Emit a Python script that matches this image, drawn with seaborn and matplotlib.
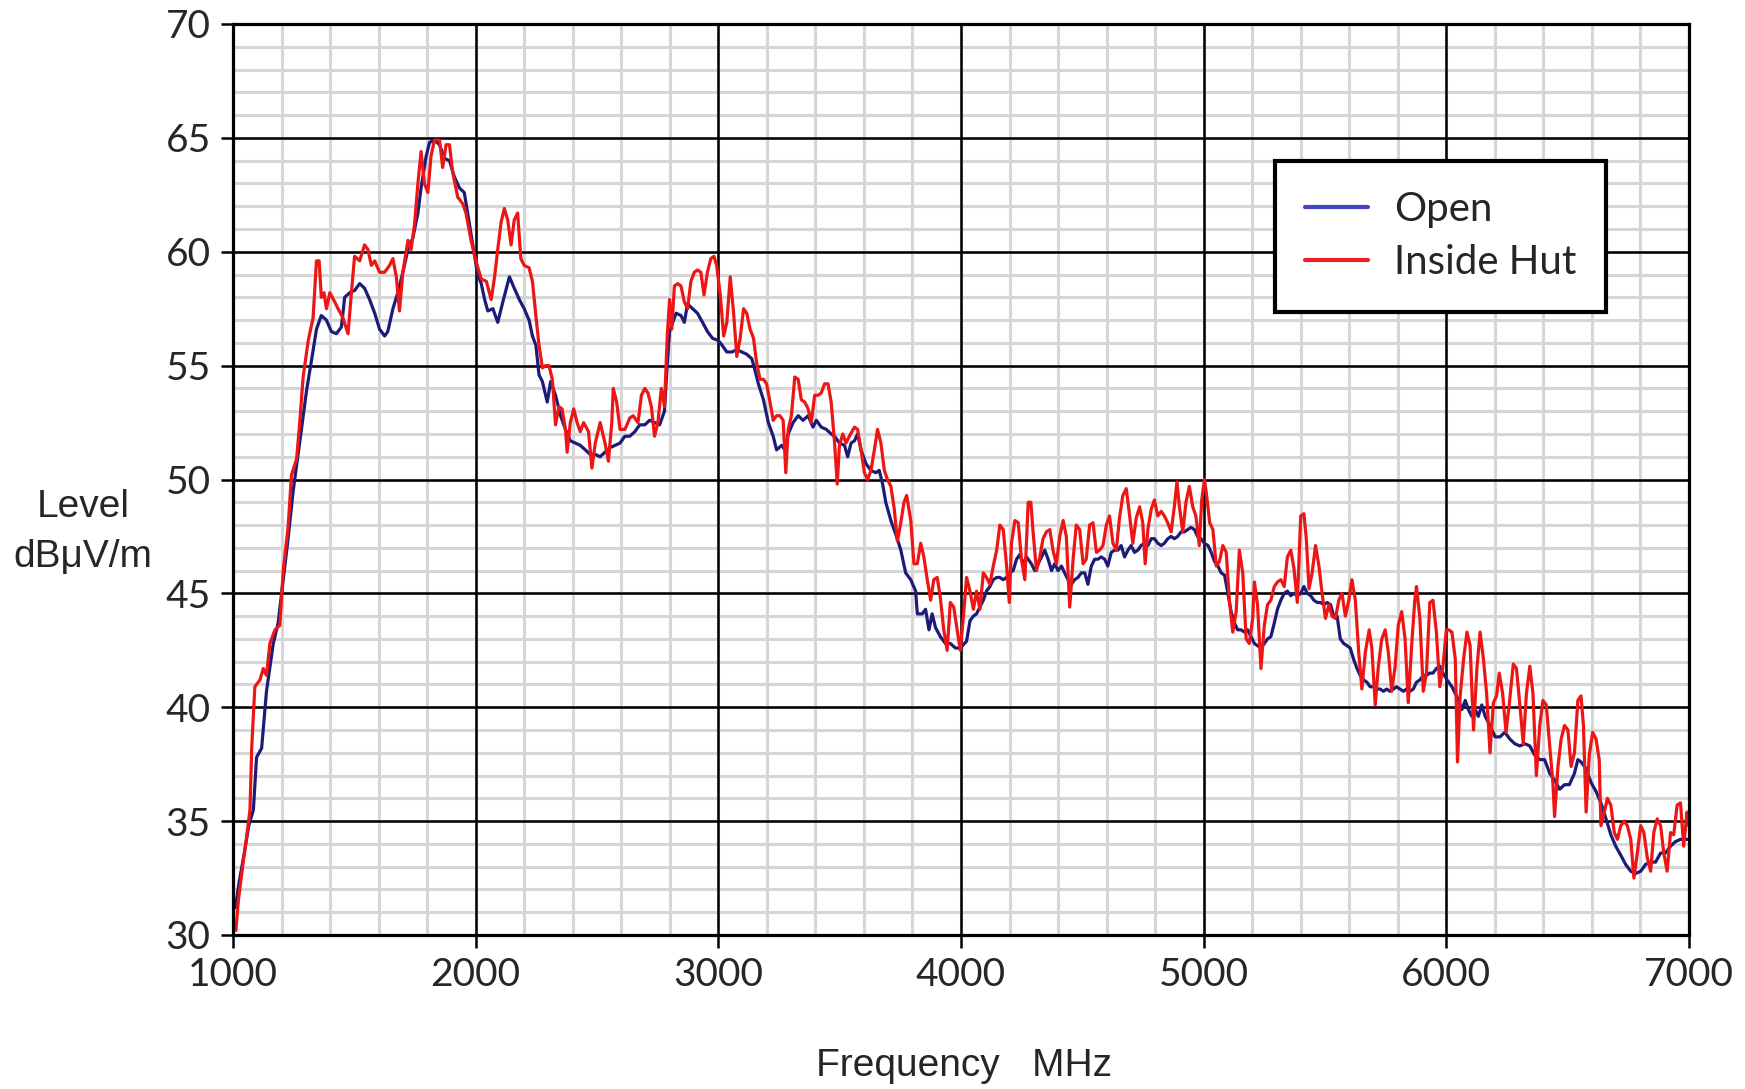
import numpy as np
import pandas as pd
import matplotlib
matplotlib.use("Agg")
import matplotlib.pyplot as plt
from matplotlib.ticker import MultipleLocator
from matplotlib.lines import Line2D
import seaborn as sns

# Open-field measurement (blue trace)
open_freq = [1010, 1025, 1045, 1065, 1084, 1097, 1118, 1138, 1166, 1186, 1207, 1227, 1248, 1262,
             1282, 1303, 1323, 1344, 1364, 1385, 1405, 1426, 1447, 1460, 1481, 1501, 1522, 1542,
             1563, 1584, 1604, 1625, 1638, 1659, 1679, 1700, 1721, 1741, 1762, 1775, 1796, 1810,
             1830, 1851, 1871, 1892, 1912, 1933, 1953, 1967, 1988, 2008, 2023, 2037, 2050, 2071,
             2091, 2112, 2139, 2159, 2180, 2200, 2220, 2234, 2248, 2261, 2275, 2295, 2309, 2329,
             2350, 2370, 2390, 2411, 2431, 2452, 2472, 2493, 2513, 2533, 2554, 2574, 2595, 2615,
             2635, 2656, 2676, 2697, 2717, 2737, 2758, 2778, 2789, 2799, 2812, 2826, 2846, 2860,
             2873, 2894, 2914, 2935, 2955, 2976, 3000, 3015, 3035, 3056, 3076, 3097, 3117, 3138,
             3151, 3165, 3186, 3206, 3226, 3240, 3261, 3274, 3288, 3308, 3329, 3349, 3370, 3390,
             3404, 3424, 3445, 3465, 3479, 3499, 3520, 3533, 3547, 3561, 3574, 3588, 3608, 3629,
             3649, 3663, 3677, 3690, 3711, 3731, 3752, 3772, 3793, 3813, 3820, 3840, 3854, 3868,
             3881, 3895, 3915, 3936, 3956, 3977, 3997, 4023, 4037, 4051, 4064, 4078, 4092, 4105,
             4119, 4133, 4147, 4160, 4174, 4188, 4201, 4215, 4229, 4242, 4256, 4270, 4290, 4304,
             4318, 4332, 4345, 4359, 4373, 4386, 4400, 4414, 4427, 4441, 4455, 4468, 4482, 4496,
             4510, 4523, 4537, 4551, 4564, 4578, 4592, 4605, 4619, 4633, 4647, 4660, 4674, 4688,
             4701, 4715, 4729, 4742, 4756, 4770, 4784, 4797, 4811, 4825, 4838, 4852, 4866, 4879,
             4893, 4907, 4921, 4934, 4948, 4962, 4975, 4989, 5003, 5018, 5031, 5045, 5059, 5072,
             5086, 5100, 5113, 5127, 5140, 5154, 5168, 5181, 5195, 5209, 5222, 5236, 5250, 5263,
             5277, 5291, 5304, 5318, 5332, 5345, 5359, 5372, 5386, 5400, 5413, 5427, 5441, 5454,
             5468, 5482, 5495, 5509, 5523, 5536, 5550, 5563, 5577, 5591, 5604, 5618, 5632, 5645,
             5659, 5673, 5686, 5700, 5714, 5727, 5741, 5754, 5768, 5782, 5795, 5809, 5823, 5836,
             5850, 5864, 5877, 5891, 5905, 5918, 5932, 5945, 5959, 5973, 5986, 6003, 6023, 6037,
             6050, 6064, 6078, 6091, 6105, 6119, 6132, 6146, 6160, 6180, 6201, 6221, 6241, 6262,
             6282, 6303, 6323, 6344, 6364, 6385, 6405, 6426, 6446, 6467, 6487, 6507, 6528, 6542,
             6555, 6576, 6596, 6617, 6637, 6658, 6678, 6698, 6719, 6739, 6760, 6780, 6801, 6821,
             6842, 6862, 6883, 6903, 6924, 6944, 6965, 6985, 6999]
open_level = [31.2, 32.3, 33.5, 34.8, 35.5, 37.8, 38.2, 40.7, 42.8, 43.7, 45.6, 47.4, 49.5, 50.6,
              52.2, 53.9, 55.2, 56.6, 57.2, 57.0, 56.5, 56.4, 56.7, 58.0, 58.2, 58.3, 58.6, 58.4,
              57.9, 57.3, 56.6, 56.3, 56.5, 57.5, 58.2, 59.1, 60.1, 60.6, 61.7, 62.8, 64.2, 64.8,
              64.9, 64.7, 64.1, 64.0, 63.3, 62.8, 62.6, 61.7, 60.3, 59.0, 58.6, 57.9, 57.4, 57.5,
              56.9, 57.8, 58.9, 58.4, 57.9, 57.5, 57.0, 56.3, 55.9, 54.6, 54.3, 53.4, 54.3, 53.7,
              52.8, 52.2, 51.7, 51.6, 51.5, 51.3, 51.1, 51.1, 51.0, 51.2, 51.4, 51.5, 51.6, 51.9,
              51.9, 52.1, 52.4, 52.4, 52.6, 52.5, 52.4, 53.0, 55.0, 56.5, 56.9, 57.3, 57.2, 56.9,
              57.7, 57.5, 57.3, 56.9, 56.5, 56.2, 56.1, 55.9, 55.6, 55.6, 55.7, 55.6, 55.5, 55.3,
              54.8, 54.2, 53.5, 52.5, 51.9, 51.3, 51.5, 51.3, 52.0, 52.5, 52.8, 52.6, 52.8, 52.3,
              52.6, 52.3, 52.2, 52.0, 51.9, 51.6, 51.5, 51.0, 51.6, 51.7, 52.0, 51.3, 50.7, 50.4,
              50.3, 50.4, 49.8, 49.0, 48.2, 47.6, 46.9, 45.9, 45.6, 45.1, 44.1, 44.1, 44.3, 43.4,
              44.1, 43.5, 43.1, 42.8, 42.8, 42.6, 42.6, 42.9, 43.8, 44.0, 44.1, 44.4, 44.7, 45.1,
              45.3, 45.6, 45.7, 45.7, 45.6, 45.7, 45.9, 46.0, 46.5, 46.7, 46.3, 46.6, 46.3, 46.0,
              46.3, 46.6, 46.9, 46.5, 46.0, 46.3, 46.0, 46.2, 45.9, 45.6, 45.4, 45.6, 45.7, 45.9,
              45.9, 45.4, 46.2, 46.5, 46.5, 46.6, 46.5, 46.2, 46.8, 46.9, 46.9, 47.1, 46.6, 46.9,
              47.1, 46.8, 46.9, 47.1, 47.2, 47.1, 47.4, 47.4, 47.2, 47.1, 47.2, 47.4, 47.5, 47.4,
              47.5, 47.7, 47.7, 47.8, 47.9, 47.8, 47.5, 47.4, 47.2, 47.1, 46.8, 46.4, 46.2, 45.9,
              45.8, 45.0, 44.2, 43.7, 43.4, 43.4, 43.3, 43.4, 43.1, 42.8, 42.7, 42.6, 42.8, 43.0,
              43.1, 43.7, 44.3, 44.7, 45.0, 45.1, 44.9, 45.0, 44.9, 45.0, 45.3, 45.0, 44.9, 44.7,
              44.6, 44.6, 44.5, 44.6, 44.5, 44.0, 44.0, 43.0, 42.8, 42.7, 42.6, 42.1, 41.7, 41.4,
              41.2, 41.1, 40.9, 40.9, 40.8, 40.8, 40.7, 40.8, 40.7, 40.8, 40.9, 40.8, 40.7, 40.8,
              40.7, 40.8, 41.1, 41.2, 41.4, 41.4, 41.5, 41.5, 41.7, 41.8, 41.5, 41.2, 40.9, 40.6,
              40.3, 39.9, 40.3, 39.9, 39.6, 39.9, 39.6, 40.1, 39.6, 39.2, 38.7, 38.7, 38.9, 38.6,
              38.4, 38.3, 38.4, 38.3, 37.9, 37.7, 37.7, 37.1, 36.8, 36.4, 36.6, 36.6, 37.1, 37.7,
              37.6, 37.3, 36.7, 36.3, 35.8, 35.1, 34.4, 33.9, 33.5, 33.1, 32.8, 32.7, 32.8, 33.1,
              33.2, 33.2, 33.6, 33.6, 33.9, 34.1, 34.2, 34.2, 34.2]

# Inside hut measurement (red trace)
hut_freq = [1012, 1022, 1042, 1056, 1070, 1077, 1090, 1111, 1125, 1138, 1152, 1173, 1193, 1207,
            1227, 1241, 1262, 1275, 1289, 1310, 1330, 1344, 1355, 1364, 1375, 1385, 1399, 1419,
            1433, 1453, 1474, 1488, 1501, 1522, 1542, 1556, 1570, 1584, 1604, 1625, 1645, 1659,
            1673, 1686, 1700, 1721, 1734, 1748, 1762, 1775, 1789, 1803, 1816, 1830, 1851, 1864,
            1878, 1892, 1905, 1926, 1947, 1960, 1981, 2001, 2023, 2044, 2064, 2078, 2091, 2105,
            2118, 2132, 2146, 2159, 2173, 2186, 2200, 2220, 2234, 2248, 2261, 2275, 2288, 2302,
            2316, 2329, 2343, 2356, 2370, 2377, 2390, 2404, 2418, 2431, 2445, 2465, 2479, 2493,
            2513, 2533, 2547, 2561, 2567, 2581, 2595, 2615, 2635, 2649, 2669, 2683, 2697, 2710,
            2724, 2737, 2751, 2765, 2778, 2789, 2799, 2808, 2819, 2833, 2846, 2860, 2873, 2887,
            2901, 2914, 2928, 2941, 2955, 2969, 2982, 2993, 3008, 3022, 3035, 3049, 3063, 3076,
            3090, 3104, 3117, 3131, 3145, 3158, 3172, 3186, 3199, 3213, 3226, 3240, 3254, 3267,
            3278, 3288, 3301, 3315, 3329, 3342, 3356, 3370, 3383, 3397, 3411, 3424, 3438, 3452,
            3465, 3479, 3490, 3499, 3513, 3526, 3540, 3561, 3574, 3588, 3602, 3615, 3629, 3643,
            3656, 3670, 3684, 3697, 3711, 3725, 3738, 3752, 3765, 3776, 3793, 3806, 3820, 3834,
            3847, 3861, 3875, 3888, 3902, 3915, 3929, 3943, 3956, 3970, 3984, 3997, 4010, 4023,
            4037, 4051, 4064, 4078, 4092, 4105, 4119, 4133, 4147, 4160, 4174, 4188, 4199, 4208,
            4222, 4236, 4249, 4263, 4277, 4288, 4297, 4311, 4325, 4338, 4352, 4366, 4379, 4393,
            4407, 4421, 4434, 4448, 4462, 4475, 4489, 4503, 4516, 4530, 4544, 4558, 4571, 4585,
            4599, 4612, 4626, 4640, 4653, 4667, 4681, 4695, 4708, 4722, 4736, 4749, 4759, 4770,
            4784, 4797, 4811, 4825, 4838, 4852, 4866, 4879, 4890, 4900, 4914, 4927, 4941, 4955,
            4968, 4982, 4992, 5003, 5011, 5025, 5038, 5052, 5065, 5079, 5093, 5106, 5120, 5134,
            5147, 5161, 5175, 5188, 5202, 5209, 5222, 5236, 5250, 5263, 5277, 5291, 5304, 5318,
            5332, 5345, 5359, 5372, 5386, 5400, 5413, 5423, 5434, 5447, 5461, 5475, 5488, 5502,
            5516, 5529, 5543, 5557, 5570, 5584, 5598, 5611, 5625, 5639, 5652, 5666, 5682, 5693,
            5707, 5720, 5734, 5748, 5761, 5775, 5789, 5802, 5816, 5830, 5843, 5857, 5870, 5877,
            5891, 5905, 5918, 5932, 5945, 5959, 5973, 5986, 6000, 6010, 6023, 6037, 6046, 6057,
            6071, 6085, 6098, 6112, 6126, 6139, 6153, 6166, 6180, 6194, 6207, 6218, 6232, 6246,
            6259, 6276, 6289, 6303, 6317, 6330, 6344, 6357, 6371, 6385, 6398, 6412, 6426, 6439,
            6446, 6460, 6473, 6487, 6501, 6514, 6528, 6542, 6555, 6565, 6576, 6589, 6603, 6617,
            6630, 6637, 6651, 6664, 6678, 6692, 6705, 6719, 6733, 6746, 6760, 6773, 6787, 6801,
            6814, 6828, 6842, 6855, 6869, 6883, 6896, 6910, 6924, 6937, 6951, 6965, 6978, 6992,
            6999]
hut_level = [30.2, 31.5, 33.2, 34.3, 35.5, 38.2, 40.9, 41.2, 41.7, 41.4, 42.8, 43.4, 43.6, 46.0,
             47.9, 50.2, 50.9, 52.5, 54.5, 56.1, 57.1, 59.6, 59.6, 58.0, 58.2, 57.5, 58.2, 57.8,
             57.5, 57.1, 56.4, 58.2, 59.8, 59.6, 60.3, 60.1, 59.4, 59.6, 59.1, 59.1, 59.4, 59.7,
             58.9, 57.4, 59.1, 60.5, 60.1, 61.2, 63.0, 64.4, 63.0, 62.6, 64.2, 64.9, 64.9, 63.7,
             64.7, 64.7, 63.5, 62.4, 62.1, 61.7, 60.5, 59.6, 58.8, 58.7, 57.9, 58.9, 60.1, 61.3,
             61.9, 61.4, 60.3, 61.4, 61.7, 59.7, 59.4, 59.3, 58.7, 57.2, 55.9, 54.9, 55.0, 55.0,
             54.4, 52.4, 53.2, 53.1, 52.2, 51.2, 52.5, 53.1, 52.5, 52.1, 52.5, 52.1, 50.5, 51.6,
             52.5, 51.6, 50.8, 52.5, 54.0, 53.4, 52.2, 52.2, 52.7, 52.8, 52.5, 53.7, 54.0, 53.8,
             53.2, 51.9, 52.5, 54.0, 53.2, 56.2, 57.9, 56.6, 58.5, 58.6, 58.5, 57.8, 57.5, 58.7,
             59.1, 59.2, 59.1, 58.1, 59.1, 59.7, 59.8, 59.4, 58.1, 56.3, 56.9, 58.9, 57.3, 55.4,
             56.2, 57.5, 57.3, 56.6, 56.2, 55.1, 54.4, 54.4, 54.2, 53.4, 52.6, 52.8, 52.8, 52.6,
             50.3, 52.2, 52.8, 54.5, 54.4, 53.5, 53.4, 53.1, 52.5, 53.7, 53.7, 53.8, 54.2, 54.2,
             53.4, 51.6, 49.8, 51.5, 52.0, 51.6, 51.9, 52.3, 52.2, 51.3, 50.3, 50.0, 50.4, 51.3,
             52.2, 51.6, 50.4, 50.0, 49.7, 48.7, 47.3, 48.1, 49.0, 49.3, 48.2, 46.3, 46.3, 47.2,
             46.6, 45.6, 44.7, 45.6, 45.7, 44.8, 43.4, 42.5, 44.6, 44.4, 43.4, 42.5, 44.0, 45.7,
             45.1, 44.3, 45.1, 44.3, 45.9, 45.7, 45.4, 46.2, 46.9, 48.0, 47.8, 46.2, 44.6, 47.2,
             48.2, 48.1, 46.5, 45.6, 49.0, 49.0, 47.7, 46.0, 46.6, 47.4, 47.7, 47.8, 46.9, 46.3,
             47.5, 48.2, 47.5, 44.4, 46.5, 48.0, 47.8, 46.3, 46.5, 48.0, 48.1, 46.8, 46.9, 47.1,
             48.0, 48.4, 47.2, 46.9, 48.3, 49.3, 49.6, 48.4, 47.2, 48.3, 48.8, 48.1, 46.3, 47.8,
             48.7, 49.1, 48.4, 48.6, 48.4, 48.1, 47.7, 48.8, 49.9, 48.8, 47.7, 49.0, 49.7, 48.8,
             48.4, 47.1, 49.1, 50.0, 49.4, 48.1, 47.8, 46.2, 46.4, 47.1, 46.8, 44.7, 43.3, 44.2,
             46.9, 45.9, 43.0, 42.8, 43.9, 45.5, 44.5, 41.7, 43.6, 44.5, 44.7, 45.3, 45.5, 45.6,
             45.3, 46.6, 46.9, 46.1, 44.6, 48.4, 48.5, 47.4, 45.2, 45.9, 47.1, 46.2, 45.0, 43.9,
             44.5, 44.0, 43.9, 44.7, 45.0, 44.0, 44.7, 45.6, 44.7, 42.4, 40.8, 42.4, 43.4, 42.6,
             40.1, 41.8, 43.0, 43.4, 42.4, 40.7, 41.8, 43.6, 44.2, 43.0, 40.2, 42.7, 44.7, 45.3,
             43.9, 40.7, 41.5, 44.6, 44.7, 43.3, 40.9, 41.8, 43.4, 43.4, 43.3, 42.1, 37.6, 40.5,
             42.1, 43.3, 42.7, 39.0, 41.7, 43.3, 42.1, 40.6, 38.0, 40.2, 40.5, 41.5, 40.6, 38.9,
             40.1, 41.9, 41.7, 40.1, 38.4, 40.6, 41.8, 40.6, 37.0, 39.2, 40.3, 40.1, 38.3, 36.7,
             35.2, 37.4, 38.6, 39.2, 39.0, 37.4, 38.0, 40.3, 40.5, 39.2, 35.4, 37.9, 38.9, 38.6,
             37.7, 34.8, 35.4, 36.0, 35.7, 34.5, 34.2, 34.8, 35.0, 34.8, 34.2, 32.5, 33.6, 34.8,
             34.5, 33.4, 32.8, 34.5, 35.1, 34.8, 33.6, 32.8, 34.5, 34.4, 35.7, 35.8, 33.9, 35.4,
             34.8]

series_names = ["Open", "Inside Hut"]
line_colors = {"Open": "#1c1c78", "Inside Hut": "#ee1515"}
legend_colors = {"Open": "#4343c8", "Inside Hut": "#ee2025"}

df = pd.concat([
    pd.DataFrame({"freq": open_freq, "level": open_level, "series": "Open"}),
    pd.DataFrame({"freq": hut_freq, "level": hut_level, "series": "Inside Hut"}),
], ignore_index=True)

sns.set_style("white")
plt.rcParams["font.family"] = ["Lato", "DejaVu Sans"]

fig = plt.figure(figsize=(17.45, 10.89), dpi=100)
ax = fig.add_axes([233 / 1745, 1 - 935 / 1089, 1456 / 1745, 911 / 1089])

ax.set_xlim(1000, 7000)
ax.set_ylim(30, 70)

# light minor grid first, black major grid on top of it, data on top of both
for xv in np.arange(1200, 7000, 200):
    ax.axvline(xv, color="#d6d6d6", lw=2.2, zorder=0.3)
for yv in np.arange(31, 70, 1):
    ax.axhline(yv, color="#d6d6d6", lw=2.2, zorder=0.3)
for xv in np.arange(2000, 7000, 1000):
    ax.axvline(xv, color="black", lw=1.8, zorder=0.6)
for yv in np.arange(35, 70, 5):
    ax.axhline(yv, color="black", lw=1.8, zorder=0.6)

sns.lineplot(data=df, x="freq", y="level", hue="series", hue_order=series_names,
             palette=line_colors, estimator=None, sort=False, lw=2.3, legend=False, ax=ax)

ax.set_xlim(1000, 7000)
ax.set_ylim(30, 70)
ax.xaxis.set_major_locator(MultipleLocator(1000))
ax.yaxis.set_major_locator(MultipleLocator(5))
ax.grid(False)
ax.tick_params(which="major", direction="out", length=9, width=1.8, color="black",
               labelsize=28, pad=7, left=True, bottom=True)
for sp in ax.spines.values():
    sp.set_color("black")
    sp.set_linewidth(2.3)

ax.set_xlabel("Frequency   MHz", fontsize=28, family=["Liberation Sans", "DejaVu Sans"], va="center")
ax.xaxis.set_label_coords(0.502, -0.144)
ax.set_ylabel("Level\ndBμV/m", fontsize=28, family=["Liberation Sans", "DejaVu Sans"],
              rotation=0, ha="center", va="center", linespacing=1.5)
ax.yaxis.set_label_coords(-0.103, 0.442)

handles = [Line2D([], [], color=legend_colors[s], lw=3) for s in series_names]
leg = ax.legend(handles, series_names, loc="upper left", bbox_to_anchor=(0.7157, 0.8496),
                fontsize=29, frameon=True, fancybox=False, framealpha=1, borderpad=0.75,
                handlelength=1.55, handletextpad=0.65, labelspacing=0.4, borderaxespad=0)
leg.get_frame().set_edgecolor("black")
leg.get_frame().set_linewidth(3)
leg.set_zorder(5)

fig.savefig("out.png", dpi=100, facecolor="white")
